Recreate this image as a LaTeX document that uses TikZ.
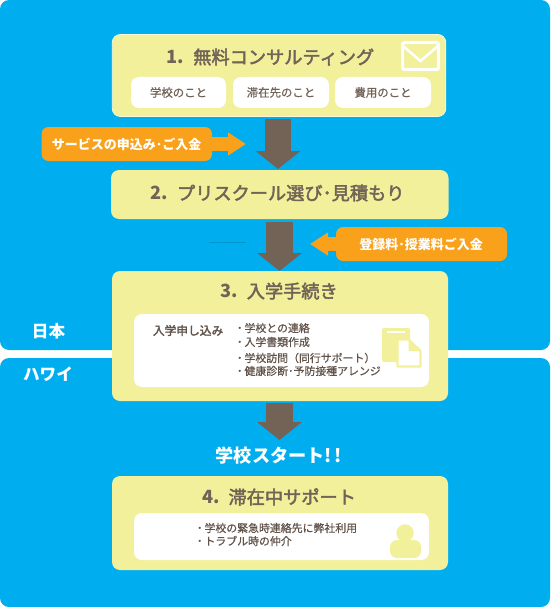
\documentclass[tikz,border=0pt]{standalone}
\usepackage{fontspec}
\newfontfamily\jp{Noto Sans CJK JP}
\newfontfamily\jpm[FakeBold=2.5]{Noto Sans CJK JP}
\newfontfamily\jpl[FakeBold=0.7]{Noto Sans CJK JP}
\usetikzlibrary{arrows.meta,calc}
\definecolor{skyb}{HTML}{00AEEF}
\definecolor{pale}{HTML}{F2F09B}
\definecolor{umber}{HTML}{736357}
\definecolor{amber}{HTML}{F9A11B}
\newcommand{\fs}[1]{\fontsize{#1pt}{#1pt}\selectfont}
\newcommand{\dotitem}{\makebox[8pt][l]{\hspace{.5pt}{\jp\bfseries ･}}}
\newcommand{\num}[1]{{\jp\bfseries #1}\hspace{9pt}}
\tikzset{
  x=1pt,y=-1pt,
  every node/.style={inner sep=0pt,outer sep=0pt,font=\jp},
  zone/.style={fill=skyb,draw=none,rounded corners=9pt},
  panel/.style={fill=pale,draw=none,rounded corners=8pt},
  inset/.style={fill=white,draw=none,rounded corners=8pt},
  orangebox/.style={fill=amber,draw=none,rounded corners=7pt},
  heading/.style={text=umber,font=\jpm\fs{18.2}},
  chip/.style={text=umber,font=\jpl\fs{11.4}},
  body/.style={text=umber!85!black,font=\jpl\fs{10.9},anchor=west},
  callout/.style={text=white,font=\jp\bfseries\fs{13}},
  place/.style={text=white,font=\jp\bfseries\fs{16.6}},
  bigarrow/.style={draw=umber,line width=26.5pt,-{Triangle[width=44pt,length=18pt,fill=umber]}},
  sidearrow/.style={draw=amber,line width=14pt,-{Triangle[width=22pt,length=18pt,fill=amber]}},
}
\begin{document}
\begin{tikzpicture}
\useasboundingbox (0,0) rectangle (550,607);
\fill[white] (0,0) rectangle (550,607);
% zones
\node[zone,minimum width=550pt,minimum height=350pt,anchor=north west] (japan) at (0,0) {};
\node[zone,minimum width=550pt,minimum height=249pt,anchor=north west] (hawaii) at (0,358) {};
\node[place] (jptext) at (48.5,331) {日本};
\node[place] (hwtext) at (48,374) {ハワイ};
% panels
\node[panel,draw=white!60!pale,line width=.8pt,minimum width=333.5pt,minimum height=82pt,anchor=north west] (p1) at (112.3,34.5) {};
\node[panel,minimum width=337.5pt,minimum height=49pt,anchor=north west] (p2) at (111,170) {};
\node[panel,minimum width=336pt,minimum height=130pt,anchor=north west] (p3) at (112,271) {};
\node[panel,minimum width=336pt,minimum height=94pt,anchor=north west] (p4) at (112,476) {};
% titles
\node[heading] (t1) at (270.5,57) {\num{1.}無料コンサルティング};
\node[heading] (t2) at (277.5,193) {\num{2.}プリスクール選び･見積もり};
\node[heading] (t3) at (279,291) {\num{3.}入学手続き};
\node[heading] (t4) at (279,497) {\num{4.}滞在中サポート};
% chips
\node[inset,minimum width=95pt,minimum height=31pt,anchor=north west] (c1) at (131,77) {};
\node[inset,minimum width=96pt,minimum height=31pt,anchor=north west] (c2) at (233,77) {};
\node[inset,minimum width=96pt,minimum height=31pt,anchor=north west] (c3) at (335,77) {};
\node[chip] at (c1) {学校のこと};
\node[chip] at (c2) {滞在先のこと};
\node[chip] at (c3) {費用のこと};
% insets
\node[inset,minimum width=295pt,minimum height=73pt,anchor=north west] (i3) at (134,314) {};
\node[inset,minimum width=295pt,minimum height=47pt,anchor=north west] (i4) at (134,513) {};
\node[text=umber!85!black,font=\jpm\fs{11.7},anchor=west] (apply) at (153,330.5) {入学申し込み};
\node[body] (l1) at (236.5,328) {\dotitem 学校との連絡};
\node[body] (l2) at (236.5,342) {\dotitem 入学書類作成};
\node[body] (l3) at (236.5,358) {\dotitem 学校訪問（同行サポート）};
\node[body] (l4) at (236.5,371) {\dotitem 健康診断･予防接種アレンジ};
\node[body] (m1) at (196.5,528) {\dotitem 学校の緊急時連絡先に弊社利用};
\node[body] (m2) at (196.5,541) {\dotitem トラブル時の仲介};
% start label
\node[text=white,font=\jp\bfseries\fs{18.2}] (start) at (278.5,456) {学校スタート!\hspace{2pt}!};
% orange callouts
\node[orangebox,minimum width=170.5pt,minimum height=34pt,anchor=north west] (o1) at (41.5,127) {};
\node[orangebox,minimum width=171pt,minimum height=34pt,anchor=north west] (o2) at (336,227) {};
\coordinate (o1tip) at (246,144);
\coordinate (o2tip) at (310,244);
\draw[sidearrow] (o1.east) ++(-2,0) -- (o1tip);
\draw[sidearrow] (o2.west) ++(2,0) -- (o2tip);
\node[callout] at (126.5,144) {サービスの申込み･ご入金};
\node[callout] at (421,244) {登録料･授業料ご入金};
% block arrows
\coordinate (a1s) at (278,119.5); \coordinate (a1e) at (278,169);
\coordinate (a2s) at (279.5,222);   \coordinate (a2e) at (279.5,271);
\coordinate (a3s) at (279.5,403);   \coordinate (a3e) at (279.5,440);
\draw[bigarrow] (a1s) -- (a1e);
\draw[bigarrow] (a2s) -- (a2e);
\draw[bigarrow] (a3s) -- (a3e);
% faint rule
\coordinate (ruleA) at (209,242.5); \coordinate (ruleB) at (246,242.5);
\draw[draw=skyb!85!black,line width=.5pt] (ruleA) -- (ruleB);
% envelope
\draw[white,line width=3.2pt,rounded corners=2pt] (402.6,42.6) rectangle (438.4,69.6);
\draw[white,line width=2.6pt] (403,46) -- (420.5,61) -- (438,46);
% documents
\fill[pale,rounded corners=2pt] (382,328) rectangle (410,362);
\draw[white,line width=1.3pt] (387,332) -- (405,332);
\draw[pale,fill=white,line width=2.4pt,line join=round] (397.5,339.5) -- (408.5,339.5) -- (420.5,351) -- (420.5,366.5) -- (397.5,366.5) -- cycle;
\fill[pale] (408.5,340) -- (408.5,351) -- (420,351) -- cycle;
% person
\fill[pale] (405,533) circle (8.7pt);
\fill[pale,rounded corners=7pt] (390,558) -- (390,540) -- (421,540) -- (421,558) -- cycle;
\end{tikzpicture}
\end{document}
